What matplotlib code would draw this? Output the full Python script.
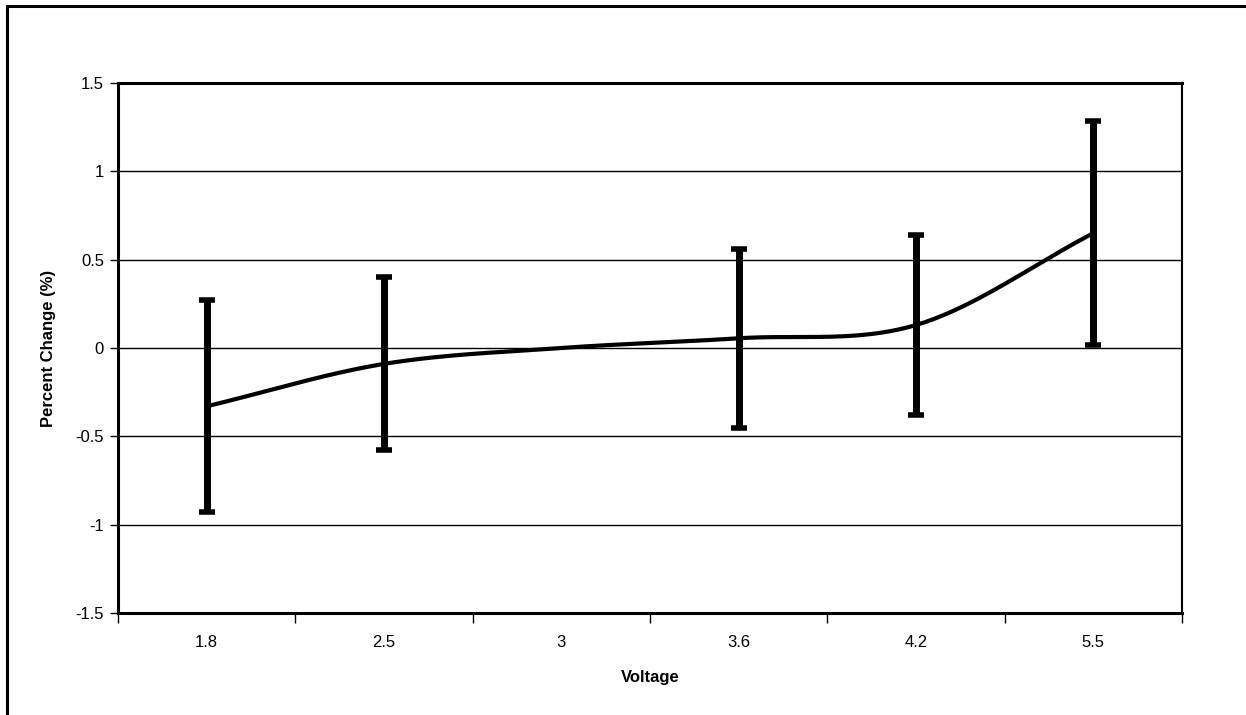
import matplotlib
matplotlib.use("Agg")
import matplotlib.pyplot as plt
import numpy as np
from matplotlib.patches import Rectangle

plt.rcParams['font.family'] = ['Liberation Sans', 'DejaVu Sans']

# data
voltages = ["1.8", "2.5", "3", "3.6", "4.2", "5.5"]
pct_change = [-0.33, -0.09, 0.0, 0.055, 0.13, 0.65]
err = [0.60, 0.49, 0.0, 0.505, 0.507, 0.633]
y_ticks = [-1.5, -1, -0.5, 0, 0.5, 1, 1.5]
y_tick_labels = ["-1.5", "-1", "-0.5", "0", "0.5", "1", "1.5"]


def catmull_rom(xs, ys, n=40):
    # smooth curve through the points (like Excel "smoothed line")
    px = np.concatenate([[2 * xs[0] - xs[1]], xs, [2 * xs[-1] - xs[-2]]])
    py = np.concatenate([[2 * ys[0] - ys[1]], ys, [2 * ys[-1] - ys[-2]]])
    outx, outy = [], []
    for i in range(1, len(px) - 2):
        t = np.linspace(0, 1, n, endpoint=False)
        for arr, out in ((px, outx), (py, outy)):
            p0, p1, p2, p3 = arr[i - 1], arr[i], arr[i + 1], arr[i + 2]
            out.extend(0.5 * (2 * p1 + (-p0 + p2) * t
                              + (2 * p0 - 5 * p1 + 4 * p2 - p3) * t ** 2
                              + (-p0 + 3 * p1 - 3 * p2 + p3) * t ** 3))
    outx.append(xs[-1])
    outy.append(ys[-1])
    return np.array(outx), np.array(outy)


fig = plt.figure(figsize=(12.46, 7.15), dpi=100)
ax = fig.add_axes([118 / 1246, 1 - 613 / 715, 1064 / 1246, 530 / 715])

# outer chart frame (right and bottom edges are off the picture)
fig.patches.append(Rectangle((7 / 1246, -0.1), 1.2, (715 - 6) / 715 + 0.1,
                             transform=fig.transFigure, fill=False,
                             edgecolor="black", linewidth=2.2))

x = np.arange(len(voltages))
sx, sy = catmull_rom(x.astype(float), np.array(pct_change))
ax.plot(sx, sy, color="black", linewidth=3, zorder=3, solid_capstyle="butt")

mask = np.array(err) > 0
ax.errorbar(x[mask], np.array(pct_change)[mask], yerr=np.array(err)[mask],
            fmt="none", ecolor="black", elinewidth=5, capsize=6, capthick=4,
            zorder=4)

ax.set_xlim(-0.5, len(voltages) - 0.5)
ax.set_ylim(-1.5, 1.5)

ax.set_yticks(y_ticks)
ax.set_yticklabels(y_tick_labels)
ax.yaxis.grid(True, color="black", linewidth=1)
ax.set_axisbelow(True)

# category ticks between the categories, labels at the centres
ax.set_xticks(np.arange(-0.5, len(voltages), 1.0))
ax.set_xticklabels([])
ax.set_xticks(x, minor=True)
ax.set_xticklabels(voltages, minor=True)
ax.tick_params(axis="x", which="minor", length=0, pad=16, labelsize=12)
ax.tick_params(axis="x", which="major", length=7, width=1, direction="out")
ax.tick_params(axis="y", length=6, width=1, direction="out", labelsize=12, pad=4)

for side in ["left", "bottom"]:
    ax.spines[side].set_linewidth(2.2)
ax.spines["top"].set_linewidth(2.2)
ax.spines["right"].set_linewidth(1.5)

ax.set_xlabel("Voltage", fontsize=12, fontweight="bold", labelpad=14)
ax.set_ylabel("Percent Change (%)", fontsize=12, fontweight="bold", labelpad=14)

fig.savefig("out.png", dpi=100)
